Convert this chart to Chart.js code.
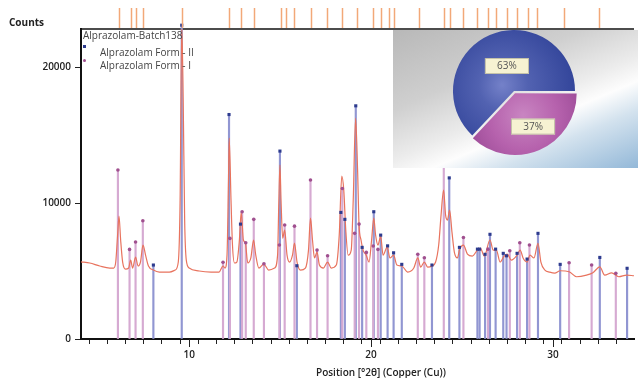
<!DOCTYPE html>
<html>
<head>
<meta charset="utf-8">
<script src="https://cdn.jsdelivr.net/npm/chart.js@4.4.1/dist/chart.umd.min.js"></script>
<style>
    html, body { margin: 0; padding: 0; background: #fff; }
    #wrap { position: relative; width: 638px; height: 378px; overflow: hidden; font-family: "Open Sans", sans-serif; }
    #main { position: absolute; left: 0; top: 0; }
    .txt { position: absolute; white-space: nowrap; line-height: 12px; }
    #counts { left: 9px; top: 16px; font-size: 10px; font-weight: 700; color: #222; }
    #xtitle { left: 316px; top: 366px; font-size: 10px; font-weight: 600; color: #222; }
    .lg { left: 100px; font-size: 10px; color: #444; }
    #lgTitle { left: 83px; top: 29px; font-size: 10px; color: #444; }
    .mk { position: absolute; }
    #inset {
        position: absolute; left: 393px; top: 30px; width: 245px; height: 138px;
        background: linear-gradient(157deg, #b8b8b8 0%, #cfcfcf 33%, #ececec 54%, #fdfdfd 64%, #d3e2ee 76%, #93b8d8 100%);
    }
    #pie { position: absolute; left: 448px; top: 25px; }
</style>
</head>
<body>
<div id="wrap">
    <canvas id="main" width="638" height="378"></canvas>
    <div class="txt" id="counts">Counts</div>
    <div class="txt" id="xtitle">Position [°2θ] (Copper (Cu))</div>
    <div class="txt" id="lgTitle">Alprazolam-Batch138</div>
    <div class="mk" style="left:83px;top:45px;width:3px;height:3px;background:#2d3b8e"></div>
    <div class="txt lg" style="top:46px">Alprazolam Form - II</div>
    <div class="mk" style="left:83px;top:59px;width:3px;height:3px;border-radius:50%;background:#a0508f"></div>
    <div class="txt lg" style="top:59px">Alprazolam Form - I</div>
    <div id="inset"></div>
    <canvas id="pie" width="132" height="132"></canvas>
</div>
<script>
// measured scan (position 2theta, counts)
const scanPos = [4.05, 4.53, 5.08, 5.63, 5.85, 5.96, 6.07, 6.14, 6.23, 6.34, 6.50, 6.67, 6.78, 6.89, 7.05, 7.19, 7.32, 7.46, 7.60, 7.76,
    8.03, 8.36, 8.91, 9.23, 9.40, 9.50, 9.59, 9.67, 9.75, 9.84, 10.00, 10.55, 11.20, 11.64, 11.86, 11.97, 12.08, 12.16, 12.20, 12.30,
    12.38, 12.49, 12.62, 12.76, 12.86, 12.98, 13.09, 13.22, 13.39, 13.54, 13.66, 13.83, 14.10, 14.37, 14.70, 14.86, 14.93, 14.99, 15.05, 15.14,
    15.25, 15.38, 15.52, 15.68, 15.79, 15.93, 16.12, 16.39, 16.56, 16.67, 16.78, 16.89, 17.03, 17.16, 17.38, 17.61, 17.81, 18.09, 18.25, 18.39,
    18.50, 18.61, 18.74, 18.91, 19.02, 19.15, 19.26, 19.34, 19.45, 19.56, 19.73, 19.89, 20.03, 20.15, 20.25, 20.38, 20.53, 20.66, 20.89, 21.04,
    21.24, 21.42, 21.69, 22.02, 22.35, 22.57, 22.73, 22.93, 23.11, 23.35, 23.55, 23.72, 23.85, 23.99, 24.10, 24.20, 24.32, 24.45, 24.58, 24.75,
    24.86, 25.08, 25.30, 25.57, 25.85, 26.01, 26.23, 26.54, 26.72, 26.89, 27.10, 27.32, 27.49, 27.71, 28.03, 28.20, 28.36, 28.58, 28.74, 28.96,
    29.18, 29.34, 29.56, 29.83, 30.10, 30.40, 30.89, 31.30, 31.85, 32.20, 32.58, 32.85, 33.23, 33.62, 34.06, 34.46];
const scanCounts = [5680, 5590, 5370, 5220, 5220, 5660, 7800, 9040, 7280, 5660, 5140, 5220, 5800, 5220, 6030, 5370, 5660, 6910, 6170, 5370,
    5070, 4920, 4920, 5070, 5660, 10200, 23080, 17570, 8750, 5800, 5220, 5000, 4920, 4920, 5370, 5220, 6170, 11690, 14770, 10200,
    6910, 5590, 5660, 7280, 9330, 7280, 7060, 5590, 5960, 7280, 6170, 5220, 5510, 5070, 5220, 6170, 10200, 12790, 10200, 7420,
    8010, 6170, 5660, 6170, 7060, 5660, 5070, 5220, 6540, 8890, 7280, 5960, 6390, 5440, 5220, 5660, 5220, 5440, 7640, 11980,
    10950, 8010, 6170, 6540, 10200, 16240, 12420, 8380, 7280, 6540, 6170, 5660, 7280, 8890, 7640, 6910, 7570, 6170, 6760, 5960,
    6170, 5440, 5370, 4920, 5220, 5960, 5290, 5660, 5290, 5370, 5660, 6910, 9110, 10950, 9110, 8750, 9480, 7860, 6390, 5960,
    6540, 6910, 6250, 6100, 6540, 6690, 6100, 7280, 6540, 6540, 5660, 6100, 6250, 5800, 6170, 6540, 5960, 5660, 6170, 5960,
    7030, 5660, 5070, 4920, 4850, 5020, 4950, 4580, 4700, 4870, 5310, 4700, 4870, 4580, 4700, 4650];

// reference lines, Alprazolam Form - II
const formIIPos = [8.03, 9.59, 12.19, 12.82, 14.99, 15.92, 18.34, 18.56, 19.16, 19.51, 20.15, 20.53, 20.91, 21.24, 21.69, 23.35,
    24.30, 24.86, 25.85, 25.97, 26.27, 26.54, 26.85, 27.27, 27.45, 28.03, 28.58, 29.18, 30.40, 32.58, 34.08];
const formIICounts = [5440, 23080, 16510, 8450, 13820, 5390, 9310, 8800, 17150, 6740, 9360, 7640, 6850, 6340, 5490, 5440,
    11850, 6740, 6610, 6610, 6230, 7700, 6610, 6300, 6120, 6300, 5880, 7770, 5490, 6000, 5200];

// reference lines, Alprazolam Form - I
const formIPos = [6.08, 6.72, 7.05, 7.45, 11.86, 12.24, 12.91, 13.11, 13.55, 14.11, 14.96, 15.25, 15.79, 16.67, 17.03, 17.61,
    18.42, 19.10, 19.34, 19.74, 20.12, 20.38, 22.57, 22.93, 24.00, 25.08, 26.43, 27.63, 28.18, 28.71, 30.89, 32.13, 33.46];
const formICounts = [12430, 6590, 7130, 8700, 5640, 7400, 9360, 7080, 8800, 5540, 6910, 8380, 8300, 11690, 6540, 6120,
    11070, 7770, 8450, 6370, 6840, 6590, 6230, 5980, 13500, 7470, 6610, 6490, 7080, 6910, 5610, 5440, 4830];

// peak list marks above the plot
const refPeakPos = [6.12, 6.81, 7.09, 7.45, 9.60, 12.19, 12.86, 13.55, 15.07, 15.32, 15.79, 16.70, 17.56, 18.42, 19.25, 20.11,
    20.53, 20.97, 21.26, 22.66, 23.99, 24.33, 25.03, 25.81, 26.43, 26.89, 27.45, 28.03, 28.62, 29.13, 30.62, 32.55];

// axis ticks
const xTickValues = [5, 6, 7, 8, 9, 10, 11, 12, 13, 14, 15, 16, 17, 18, 19, 20, 21, 22, 23, 24, 25, 26, 27, 28, 29, 30, 31, 32, 33, 34];
const xTickLabels = ['10', '20', '30'];
const yTickValues = [0, 10000, 20000];

// quantification
const pieLabels = ['Alprazolam Form - I', 'Alprazolam Form - II'];
const pieValues = [37, 63];

const tickFont = { family: 'Open Sans', size: 10, weight: '600' };

const pts = (xs, ys) => xs.map((x, i) => ({ x: x, y: ys[i] }));

const frame = {
    id: 'frame',
    beforeDatasetsDraw(chart) {
        const { ctx, chartArea } = chart;
        ctx.save();
        ctx.strokeStyle = '#111';
        ctx.lineWidth = 1.5;
        ctx.beginPath();
        ctx.moveTo(chartArea.left, chartArea.top);
        ctx.lineTo(chartArea.right, chartArea.top);
        ctx.stroke();
        ctx.restore();
    },
    afterDraw(chart) {
        const { ctx, chartArea } = chart;
        const x = chart.scales.x;
        ctx.save();
        ctx.strokeStyle = '#f2a878';
        ctx.lineWidth = 1.5;
        refPeakPos.forEach(p => {
            const px = Math.round(x.getPixelForValue(p)) + 0.5;
            ctx.beginPath();
            ctx.moveTo(px, chartArea.top - 21);
            ctx.lineTo(px, chartArea.top - 1);
            ctx.stroke();
        });
        // longer marks at the labelled positions
        ctx.strokeStyle = '#222';
        ctx.lineWidth = 1;
        xTickLabels.forEach(l => {
            const px = Math.round(x.getPixelForValue(Number(l))) + 0.5;
            ctx.beginPath();
            ctx.moveTo(px, chartArea.bottom);
            ctx.lineTo(px, chartArea.bottom + 8);
            ctx.stroke();
        });
        ctx.restore();
    }
};

new Chart(document.getElementById('main'), {
    type: 'scatter',
    data: {
        datasets: [
            {
                type: 'bar', label: 'Form II lines', data: pts(formIIPos, formIICounts),
                backgroundColor: '#9196d2', barThickness: 1.5, grouped: false, order: 4, clip: false
            },
            {
                type: 'bar', label: 'Form I lines', data: pts(formIPos, formICounts),
                backgroundColor: '#d6aad2', barThickness: 1.5, grouped: false, order: 3
            },
            {
                type: 'line', label: 'Alprazolam-Batch138', data: pts(scanPos, scanCounts),
                borderColor: '#e8735e', borderWidth: 1.2, pointRadius: 0,
                cubicInterpolationMode: 'monotone', order: 2
            },
            {
                label: 'Alprazolam Form - II', data: pts(formIIPos, formIICounts),
                pointStyle: 'rect', pointRadius: 2.2, backgroundColor: '#2d3b8e', borderWidth: 0,
                order: 1, clip: false
            },
            {
                label: 'Alprazolam Form - I', data: pts(formIPos, formICounts),
                pointStyle: 'circle', pointRadius: 1.8, backgroundColor: '#a0508f', borderWidth: 0,
                order: 1
            }
        ]
    },
    options: {
        responsive: false,
        animation: false,
        layout: { padding: { top: 29, right: 0, left: 0, bottom: 0 } },
        plugins: { legend: { display: false }, tooltip: { enabled: false } },
        scales: {
            x: {
                type: 'linear', min: 4.05, max: 34.46, offset: false,
                afterBuildTicks: axis => { axis.ticks = xTickValues.map(v => ({ value: v })); },
                afterFit: scale => { scale.height = 39; },
                ticks: {
                    autoSkip: false, maxRotation: 0, padding: 5, color: '#222', font: tickFont,
                    callback: v => (xTickLabels.includes(String(v)) ? String(v) : '')
                },
                grid: { drawOnChartArea: false, drawTicks: true, tickLength: 5, tickColor: '#222', tickWidth: 1 },
                border: { display: true, color: '#111', width: 2 }
            },
            y: {
                type: 'linear', min: 0, max: 22800,
                afterBuildTicks: axis => { axis.ticks = yTickValues.map(v => ({ value: v })); },
                afterFit: scale => { scale.width = 81; },
                ticks: { autoSkip: false, padding: 4, color: '#222', font: tickFont, callback: v => String(v) },
                grid: { drawOnChartArea: false, drawTicks: true, tickLength: 6, tickColor: '#222', tickWidth: 1 },
                border: { display: true, color: '#111', width: 2 }
            }
        }
    },
    plugins: [frame]
});

const sliceFill = (ctx) => {
    const area = ctx.chart.chartArea;
    if (!area) return '#4456a8';
    const c = ctx.chart.ctx;
    const cx = (area.left + area.right) / 2;
    const cy = (area.top + area.bottom) / 2;
    let g;
    if (ctx.dataIndex === 1) {
        g = c.createRadialGradient(cx - 12, cy - 6, 1, cx - 8, cy - 4, 68);
        g.addColorStop(0, '#7380c8');
        g.addColorStop(0.35, '#5262b1');
        g.addColorStop(1, '#34469b');
    } else {
        g = c.createRadialGradient(cx + 8, cy + 22, 1, cx + 10, cy + 24, 60);
        g.addColorStop(0, '#c884c1');
        g.addColorStop(0.55, '#b662ad');
        g.addColorStop(1, '#9d4c98');
    }
    return g;
};

const pieTags = {
    id: 'pieTags',
    afterDatasetsDraw(chart) {
        const ctx = chart.ctx;
        const meta = chart.getDatasetMeta(0);
        ctx.save();
        ctx.font = '10px "Open Sans"';
        ctx.textAlign = 'center';
        ctx.textBaseline = 'middle';
        meta.data.forEach((arc, i) => {
            const p = arc.tooltipPosition();
            const x = p.x + 5, y = p.y + 3;
            const w = 44, h = 16;
            ctx.fillStyle = '#f6f2d2';
            ctx.fillRect(x - w / 2, y - h / 2, w, h);
            ctx.strokeStyle = '#b9b6a0';
            ctx.lineWidth = 0.8;
            ctx.strokeRect(x - w / 2 + 0.5, y - h / 2 + 0.5, w - 1, h - 1);
            ctx.fillStyle = '#555';
            ctx.fillText(pieValues[i] + '%', x, y + 0.5);
        });
        ctx.restore();
    }
};

new Chart(document.getElementById('pie'), {
    type: 'pie',
    data: {
        labels: pieLabels,
        datasets: [{ data: pieValues, backgroundColor: sliceFill, borderWidth: 0, offset: [10, 0] }]
    },
    options: {
        responsive: false,
        animation: false,
        rotation: 90,
        layout: { padding: 0 },
        plugins: { legend: { display: false }, tooltip: { enabled: false } }
    },
    plugins: [pieTags]
});
</script>
</body>
</html>
